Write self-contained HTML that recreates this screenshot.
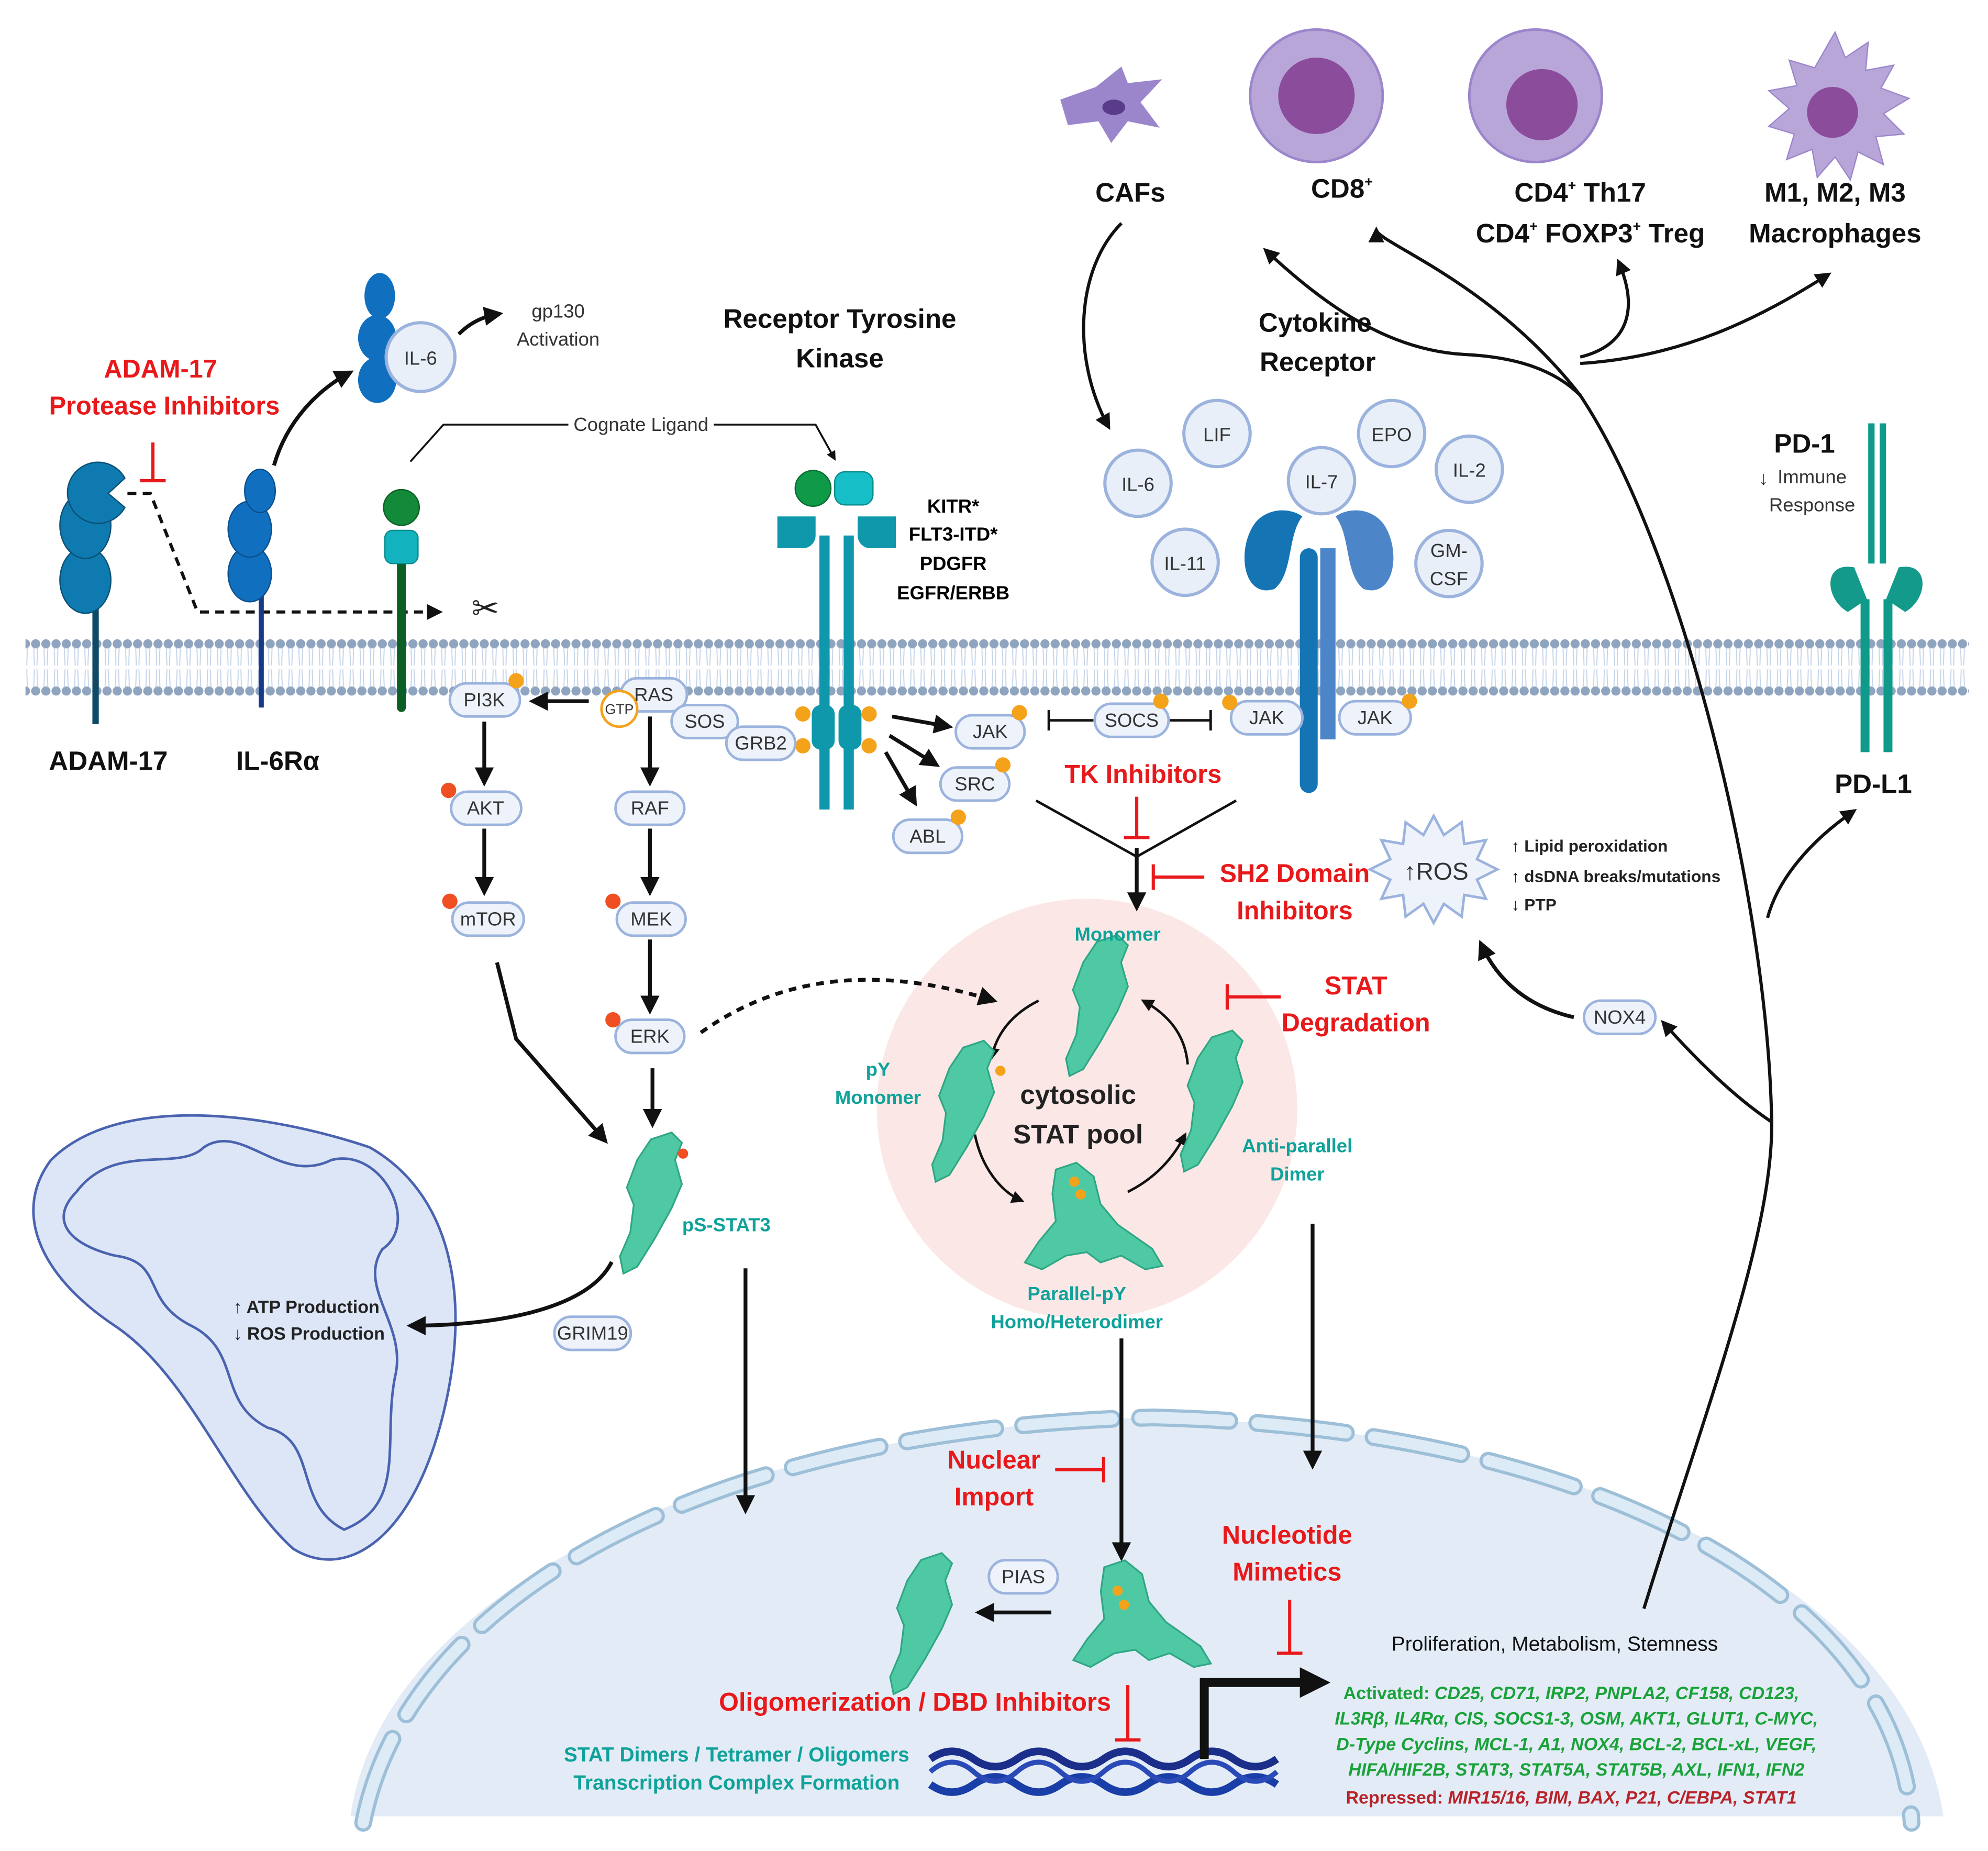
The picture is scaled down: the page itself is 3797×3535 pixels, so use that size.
<!DOCTYPE html>
<html><head><meta charset="utf-8"><style>
html,body{margin:0;padding:0;background:#fff;}
svg{display:block;}
text{font-family:"Liberation Sans",Arial,sans-serif;}
.n{fill:#333;font-size:15px;}
.b{font-weight:bold;}
.r{fill:#e8191b;font-weight:bold;font-size:20px;}
.t{fill:#0fa29a;font-weight:bold;font-size:15px;}
.k{fill:#111;font-weight:bold;font-size:21px;}
</style></head><body>
<svg width="3797" height="3535" viewBox="0 0 1560 1452" xmlns="http://www.w3.org/2000/svg">
<defs>
<marker id="a" viewBox="0 0 10 10" refX="8" refY="5" markerWidth="5" markerHeight="5" orient="auto"><path d="M0,0L10,5L0,10z" fill="#111"/></marker>
<pattern id="mem" x="0" y="0" width="8" height="50" patternUnits="userSpaceOnUse">
<circle cx="4" cy="5" r="3.6" fill="#8fa4bf"/><circle cx="4" cy="42" r="3.6" fill="#8fa4bf"/>
<path d="M2.5,8L3,22M5.5,8L5,22M2.5,39L3,25M5.5,39L5,25" stroke="#c4d4e8" stroke-width="0.8"/>
</pattern>
<g id="stat"><path d="M0,0 l8,-12 l12,-4 l6,6 l-4,10 l4,14 l-6,14 l-10,18 l-10,16 l-8,4 l-2,-10 l6,-14 l2,-16 l-4,-10z" fill="#4fc9a4" stroke="#2fa684" stroke-width="1" transform="scale(1.35)"/></g>
<g id="dimer"><path d="M-10,-30 l12,-4 l10,8 l4,16 l10,12 l20,14 l6,10 l-10,2 l-14,-8 l-12,4 l-8,-6 l-12,2 l-14,8 l-10,-4 l8,-12 l10,-12 l-2,-16z" fill="#4fc9a4" stroke="#2fa684" stroke-width="1" transform="scale(1.35)"/></g>
</defs>
<rect width="1560" height="1452" fill="#fff"/>

<!-- nucleus -->
<path d="M275,1425 C300,1250 560,1120 905,1112 C1250,1120 1500,1250 1525,1425 Z" fill="#e3ecf6"/>
<path d="M285,1430 C320,1250 560,1120 905,1112 C1250,1120 1490,1250 1500,1430" fill="none" stroke="#9dbfd8" stroke-width="14" stroke-dasharray="70,22" stroke-linecap="round"/>
<path d="M285,1430 C320,1250 560,1120 905,1112 C1250,1120 1490,1250 1500,1430" fill="none" stroke="#dcebf6" stroke-width="9" stroke-dasharray="70,22" stroke-linecap="round"/>

<!-- membrane -->
<rect x="20" y="497" width="1525" height="50" fill="url(#mem)"/>

<!-- pink pool -->
<circle cx="853" cy="870" r="165" fill="#fbe8e6"/>

<!-- mitochondrion -->
<path d="M40,910 C90,860 200,870 290,900 C360,940 370,1030 345,1120 C320,1210 270,1240 230,1215 C180,1170 150,1080 90,1040 C30,1000 10,950 40,910Z" fill="#dde6f6" stroke="#4a63b0" stroke-width="2"/>
<path d="M60,935 C90,895 140,920 160,900 C190,880 220,930 260,910 C300,900 330,960 300,980 C280,1010 320,1040 310,1080 C300,1130 320,1180 270,1200 C230,1180 250,1130 210,1120 C170,1100 190,1060 150,1040 C110,1020 130,990 90,985 C50,975 40,955 60,935Z" fill="none" stroke="#4a63b0" stroke-width="2"/>
<text x="183" y="1030" class="b" style="font-size:14px;fill:#222">↑ ATP Production</text>
<text x="183" y="1051" class="b" style="font-size:14px;fill:#222">↓ ROS Production</text>

<!-- top cells -->
<path d="M832,78 L860,68 L880,52 L885,65 L912,62 L895,80 L910,100 L885,95 L872,112 L862,95 L838,98 Z" fill="#9b86cc"/>
<ellipse cx="874" cy="84" rx="9" ry="6" fill="#5a3a8a"/>
<circle cx="1033" cy="75" r="52" fill="#b9a6d8" stroke="#9b86cc" stroke-width="2"/><circle cx="1033" cy="75" r="30" fill="#8b4c9c"/>
<circle cx="1205" cy="75" r="52" fill="#b9a6d8" stroke="#9b86cc" stroke-width="2"/><circle cx="1210" cy="82" r="28" fill="#8b4c9c"/>
<path d="M1440,25 l8,20 l18,-12 l-2,22 l22,-4 l-10,18 l22,8 l-20,12 l16,16 l-22,2 l6,22 l-20,-10 l-6,22 l-12,-18 l-14,16 l-4,-22 l-20,8 l6,-20 l-20,-6 l16,-14 l-16,-14 l22,-4 l-6,-20 l20,6 z" fill="#b9a6d8" stroke="#9b86cc"/>
<circle cx="1438" cy="88" r="20" fill="#8b4c9c"/>
<text x="887" y="158" class="k" text-anchor="middle">CAFs</text>
<text x="1053" y="155" class="k" text-anchor="middle">CD8<tspan dy="-9" style="font-size:11px">+</tspan></text>
<text x="1240" y="158" class="k" text-anchor="middle">CD4<tspan dy="-9" style="font-size:11px">+</tspan><tspan dy="9"> Th17</tspan></text>
<text x="1248" y="190" class="k" text-anchor="middle">CD4<tspan dy="-9" style="font-size:11px">+</tspan><tspan dy="9"> FOXP3</tspan><tspan dy="-9" style="font-size:11px">+</tspan><tspan dy="9"> Treg</tspan></text>
<text x="1440" y="158" class="k" text-anchor="middle">M1, M2, M3</text>
<text x="1440" y="190" class="k" text-anchor="middle">Macrophages</text>

<!-- ADAM17 -->
<line x1="75" y1="440" x2="75" y2="568" stroke="#0e4a66" stroke-width="5"/>
<ellipse cx="67" cy="455" rx="20" ry="26" fill="#0e7ab0" stroke="#0a4e74"/>
<ellipse cx="67" cy="412" rx="20" ry="26" fill="#0e7ab0" stroke="#0a4e74"/>
<path d="M98,375 A24,24 0 1 0 98,398 L85,387 Z" fill="#0e7ab0" stroke="#0a4e74"/>
<path d="M100,387 L118,387 L155,480 L345,480" fill="none" stroke="#111" stroke-width="2.5" stroke-dasharray="7,5" marker-end="url(#a)"/>
<text x="370" y="486" style="font-size:26px;fill:#222">✂</text>
<path d="M120,347 V377 M110,377 H130" stroke="#e8191b" stroke-width="2.5"/>
<text x="126" y="296" class="r" text-anchor="middle">ADAM-17</text>
<text x="129" y="325" class="r" text-anchor="middle">Protease Inhibitors</text>
<text x="85" y="604" class="k" text-anchor="middle">ADAM-17</text>

<!-- IL6Ra -->
<line x1="205" y1="440" x2="205" y2="555" stroke="#163a85" stroke-width="4"/>
<ellipse cx="196" cy="450" rx="17" ry="22" fill="#1070bf" stroke="#0a4e8c"/>
<ellipse cx="196" cy="415" rx="17" ry="22" fill="#1070bf" stroke="#0a4e8c"/>
<ellipse cx="204" cy="385" rx="12" ry="17" fill="#1070bf" stroke="#0a4e8c"/>
<text x="218" y="604" class="k" text-anchor="middle">IL-6Rα</text>
<path d="M215,365 C225,330 250,305 275,292" fill="none" stroke="#111" stroke-width="3" marker-end="url(#a)"/>
<ellipse cx="298" cy="232" rx="12" ry="18" fill="#1070bf"/>
<ellipse cx="296" cy="265" rx="15" ry="18" fill="#1070bf"/>
<ellipse cx="296" cy="298" rx="15" ry="18" fill="#1070bf"/>
<circle cx="330" cy="280" r="27" fill="#e9eff9" stroke="#9bb3dd" stroke-width="2.5"/>
<text x="330" y="286" class="n" text-anchor="middle">IL-6</text>
<path d="M360,262 C370,252 380,248 392,246" fill="none" stroke="#111" stroke-width="3" marker-end="url(#a)"/>
<text x="438" y="249" class="n" text-anchor="middle">gp130</text>
<text x="438" y="271" class="n" text-anchor="middle">Activation</text>

<!-- green receptor -->
<line x1="315" y1="430" x2="315" y2="555" stroke="#0d5e24" stroke-width="7" stroke-linecap="round"/>
<circle cx="315" cy="398" r="14" fill="#128a3a" stroke="#0d5e24"/>
<rect x="302" y="416" width="26" height="26" rx="6" fill="#12b3bf" stroke="#0a8a8a"/>
<path d="M322,362 L348,333 L640,333 L655,360" fill="none" stroke="#111" stroke-width="1.5" marker-end="url(#a)"/>
<rect x="446" y="323" width="114" height="20" fill="#fff"/>
<text x="503" y="338" class="n" text-anchor="middle">Cognate Ligand</text>

<!-- RTK -->
<text x="659" y="257" class="k" text-anchor="middle">Receptor Tyrosine</text>
<text x="659" y="288" class="k" text-anchor="middle">Kinase</text>
<circle cx="638" cy="383" r="14" fill="#0f9a48" stroke="#0a6a32"/>
<rect x="655" y="370" width="30" height="26" rx="8" fill="#16bfc8" stroke="#0a8a8a"/>
<path d="M610,405 H640 V420 A10,10 0 0 1 630,430 H610Z M703,405 H673 V420 A10,10 0 0 0 683,430 H703Z" fill="#0f98ac"/>
<rect x="643" y="420" width="8" height="215" fill="#0f98ac"/><rect x="662" y="420" width="8" height="215" fill="#0f98ac"/>
<rect x="637" y="553" width="18" height="35" rx="7" fill="#0f98ac"/><rect x="658" y="553" width="18" height="35" rx="7" fill="#0f98ac"/>
<g fill="#f5a21b"><circle cx="630" cy="560" r="6"/><circle cx="630" cy="585" r="6"/><circle cx="682" cy="560" r="6"/><circle cx="682" cy="585" r="6"/></g>
<text x="748" y="402" class="b" style="font-size:15px" text-anchor="middle">KITR*</text>
<text x="748" y="424" class="b" style="font-size:15px" text-anchor="middle">FLT3-ITD*</text>
<text x="748" y="447" class="b" style="font-size:15px" text-anchor="middle">PDGFR</text>
<text x="748" y="470" class="b" style="font-size:15px" text-anchor="middle">EGFR/ERBB</text>

<!-- cytokine receptor -->
<text x="1032" y="260" class="k" text-anchor="middle">Cytokine</text>
<text x="1034" y="291" class="k" text-anchor="middle">Receptor</text>
<path d="M1022,405 C1010,420 1015,450 1000,462 C975,470 970,430 985,410 C995,398 1012,398 1022,405Z" fill="#1474b4"/>
<path d="M1048,405 C1060,420 1055,450 1070,462 C1095,470 1100,430 1085,410 C1075,398 1058,398 1048,405Z" fill="#4d86c8"/>
<rect x="1020" y="430" width="14" height="192" rx="7" fill="#1474b4"/>
<rect x="1036" y="430" width="12" height="150" fill="#4d86c8"/>
<g fill="#e9eff9" stroke="#9bb3dd" stroke-width="2.5">
<circle cx="955" cy="340" r="26"/><circle cx="1092" cy="340" r="26"/><circle cx="893" cy="379" r="26"/>
<circle cx="1037" cy="377" r="26"/><circle cx="1153" cy="368" r="26"/><circle cx="930" cy="441" r="26"/><circle cx="1137" cy="442" r="26"/></g>
<g class="n" text-anchor="middle">
<text x="955" y="346">LIF</text><text x="1092" y="346">EPO</text><text x="893" y="385">IL-6</text><text x="1037" y="383">IL-7</text>
<text x="1153" y="374">IL-2</text><text x="930" y="447">IL-11</text><text x="1137" y="437">GM-</text><text x="1137" y="459">CSF</text></g>

<!-- PD-1 / PD-L1 -->
<rect x="1466" y="332" width="5" height="110" fill="#0f9a8a"/><rect x="1475" y="332" width="5" height="110" fill="#0f9a8a"/>
<path d="M1455,445 C1430,440 1432,470 1450,480 L1465,470Z M1490,445 C1515,440 1513,470 1495,480 L1480,470Z" fill="#139a8a"/>
<rect x="1460" y="470" width="7" height="120" fill="#0f9a8a"/><rect x="1478" y="470" width="7" height="120" fill="#0f9a8a"/>
<text x="1416" y="355" class="k" text-anchor="middle">PD-1</text>
<text x="1380" y="380" class="n">↓</text>
<text x="1422" y="379" class="n" text-anchor="middle">Immune</text>
<text x="1422" y="401" class="n" text-anchor="middle">Response</text>
<text x="1470" y="622" class="k" text-anchor="middle">PD-L1</text>

<!-- pill nodes -->
<g fill="#eef3fb" stroke="#9bb3dd" stroke-width="2">
<rect x="353" y="536" width="55" height="26" rx="13"/>
<rect x="487" y="532" width="52" height="26" rx="13"/>
<rect x="527" y="553" width="52" height="26" rx="13"/>
<rect x="570" y="570" width="54" height="26" rx="13"/>
<rect x="354" y="621" width="55" height="26" rx="13"/>
<rect x="483" y="621" width="54" height="26" rx="13"/>
<rect x="355" y="708" width="56" height="26" rx="13"/>
<rect x="484" y="708" width="54" height="26" rx="13"/>
<rect x="483" y="800" width="54" height="26" rx="13"/>
<rect x="750" y="561" width="54" height="26" rx="13"/>
<rect x="738" y="602" width="54" height="26" rx="13"/>
<rect x="701" y="643" width="54" height="26" rx="13"/>
<rect x="859" y="552" width="58" height="26" rx="13"/>
<rect x="966" y="550" width="56" height="26" rx="13"/>
<rect x="1051" y="550" width="56" height="26" rx="13"/>
<rect x="435" y="1033" width="60" height="26" rx="13"/>
<rect x="1243" y="785" width="56" height="26" rx="13"/>
<rect x="776" y="1224" width="54" height="26" rx="13"/>
</g>
<circle cx="486" cy="556" r="14" fill="#fff" stroke="#f5a21b" stroke-width="2"/>
<text x="486" y="560" style="font-size:11px;fill:#333" text-anchor="middle">GTP</text>
<g class="n" text-anchor="middle">
<text x="380" y="554">PI3K</text><text x="513" y="550">RAS</text><text x="553" y="571">SOS</text><text x="597" y="588">GRB2</text>
<text x="381" y="639">AKT</text><text x="510" y="639">RAF</text><text x="383" y="726">mTOR</text><text x="511" y="726">MEK</text><text x="510" y="818">ERK</text>
<text x="777" y="579">JAK</text><text x="765" y="620">SRC</text><text x="728" y="661">ABL</text><text x="888" y="570">SOCS</text>
<text x="994" y="568">JAK</text><text x="1079" y="568">JAK</text><text x="465" y="1051">GRIM19</text><text x="1271" y="803">NOX4</text><text x="803" y="1242">PIAS</text></g>
<g fill="#f5a21b"><circle cx="405" cy="534" r="6"/><circle cx="800" cy="559" r="6"/><circle cx="787" cy="600" r="6"/><circle cx="752" cy="641" r="6"/><circle cx="911" cy="550" r="6"/><circle cx="965" cy="551" r="6"/><circle cx="1106" cy="550" r="6"/></g>
<g fill="#f04e23"><circle cx="352" cy="620" r="6"/><circle cx="353" cy="707" r="6"/><circle cx="481" cy="707" r="6"/><circle cx="481" cy="800" r="6"/></g>

<!-- arrows in kinase pathways -->
<g stroke="#111" stroke-width="3" fill="none" marker-end="url(#a)">
<path d="M462,550 H418"/><path d="M380,566 V614"/><path d="M380,650 V700"/><path d="M510,562 V614"/><path d="M510,650 V700"/><path d="M510,737 V793"/><path d="M512,838 V882"/>
<path d="M390,755 L405,815 L475,895"/>
<path d="M700,562 L745,570"/><path d="M698,577 L735,600"/><path d="M695,590 L718,630"/>
<path d="M550,810 C620,760 700,760 780,785" stroke-dasharray="6,5"/>
<path d="M480,990 C460,1030 380,1040 322,1040"/>
<path d="M585,995 V1185"/><path d="M880,1050 V1222"/><path d="M1030,960 V1150"/>
<path d="M825,1265 H768"/>
<path d="M892,665 V712"/>
<path d="M1235,798 C1200,790 1175,770 1162,740"/>
</g>
<path d="M823,565 H858 M823,557 V573 M918,565 H950 M950,557 V573" stroke="#111" stroke-width="2"/>
<path d="M813,628 L892,672 L970,628" fill="none" stroke="#111" stroke-width="2"/>

<!-- inhibitors -->
<g stroke="#e8191b" stroke-width="2.5" fill="none">
<path d="M892,625 V657 M882,657 H902"/>
<path d="M945,688 H905 M905,678 V698"/>
<path d="M1005,782 H963 M963,772 V792"/>
<path d="M828,1153 H866 M866,1143 V1163"/>
<path d="M1012,1255 V1297 M1002,1297 H1022"/>
<path d="M885,1322 V1365 M875,1365 H895"/>
</g>
<text x="897" y="614" class="r" text-anchor="middle">TK Inhibitors</text>
<text x="1016" y="692" class="r" text-anchor="middle">SH2 Domain</text>
<text x="1016" y="721" class="r" text-anchor="middle">Inhibitors</text>
<text x="1064" y="780" class="r" text-anchor="middle">STAT</text>
<text x="1064" y="809" class="r" text-anchor="middle">Degradation</text>
<text x="780" y="1152" class="r" text-anchor="middle">Nuclear</text>
<text x="780" y="1181" class="r" text-anchor="middle">Import</text>
<text x="1010" y="1211" class="r" text-anchor="middle">Nucleotide</text>
<text x="1010" y="1240" class="r" text-anchor="middle">Mimetics</text>
<text x="718" y="1342" class="r" text-anchor="middle">Oligomerization / DBD Inhibitors</text>

<!-- STAT pool -->
<g stroke="#111" stroke-width="2" fill="none" marker-end="url(#a)">
<path d="M815,785 C795,795 782,810 778,830"/><path d="M765,890 C770,915 785,935 802,942"/>
<path d="M885,935 C905,925 920,910 930,890"/><path d="M932,835 C930,810 915,795 897,785"/>
</g>
<use href="#stat" x="850" y="755"/>
<use href="#stat" x="745" y="838"/>
<use href="#stat" x="940" y="830"/>
<use href="#dimer" x="842" y="958"/>
<use href="#stat" x="500" y="910"/>
<use href="#stat" x="712" y="1240"/>
<use href="#dimer" x="880" y="1270"/>
<g fill="#f5a21b"><circle cx="785" cy="840" r="4"/><circle cx="843" cy="927" r="4"/><circle cx="848" cy="937" r="4"/><circle cx="877" cy="1248" r="4"/><circle cx="882" cy="1259" r="4"/></g>
<circle cx="536" cy="905" r="4" fill="#f04e23"/>
<text x="877" y="738" class="t" text-anchor="middle">Monomer</text>
<text x="689" y="844" class="t" text-anchor="middle">pY</text>
<text x="689" y="866" class="t" text-anchor="middle">Monomer</text>
<text x="846" y="866" class="b" style="font-size:21px;fill:#222" text-anchor="middle">cytosolic</text>
<text x="846" y="897" class="b" style="font-size:21px;fill:#222" text-anchor="middle">STAT pool</text>
<text x="1018" y="904" class="t" text-anchor="middle">Anti-parallel</text>
<text x="1018" y="926" class="t" text-anchor="middle">Dimer</text>
<text x="845" y="1020" class="t" text-anchor="middle">Parallel-pY</text>
<text x="845" y="1042" class="t" text-anchor="middle">Homo/Heterodimer</text>
<text x="570" y="966" class="t" text-anchor="middle">pS-STAT3</text>
<text x="578" y="1382" class="t" style="font-size:16px" text-anchor="middle">STAT Dimers / Tetramer / Oligomers</text>
<text x="578" y="1404" class="t" style="font-size:16px" text-anchor="middle">Transcription Complex Formation</text>

<!-- DNA -->
<path d="M730,1380 q17,-12 34,0 t34,0 t34,0 t34,0 t34,0 t34,0 t34,0 t34,0" fill="none" stroke="#1a2e8a" stroke-width="6"/>
<path d="M730,1400 q17,12 34,0 t34,0 t34,0 t34,0 t34,0 t34,0 t34,0 t34,0" fill="none" stroke="#1a3ea8" stroke-width="6"/>
<path d="M730,1390 q17,-15 34,0 t34,0 t34,0 t34,0 t34,0 t34,0 t34,0 t34,0" fill="none" stroke="#2a4ab8" stroke-width="4"/>
<path d="M945,1380 V1320 H1025" fill="none" stroke="#111" stroke-width="7"/>
<path d="M1020,1308 L1044,1320 L1020,1332Z" fill="#111"/>
<text x="1220" y="1295" style="font-size:16px;fill:#111" text-anchor="middle">Proliferation, Metabolism, Stemness</text>
<g style="font-size:14px;font-weight:bold" text-anchor="middle">
<text x="1233" y="1333" fill="#1aa23a">Activated: <tspan font-style="italic">CD25, CD71, IRP2, PNPLA2, CF158, CD123,</tspan></text>
<text x="1237" y="1353" fill="#1aa23a" font-style="italic">IL3Rβ, IL4Rα, CIS, SOCS1-3, OSM, AKT1, GLUT1, C-MYC,</text>
<text x="1237" y="1373" fill="#1aa23a" font-style="italic">D-Type Cyclins, MCL-1, A1, NOX4, BCL-2, BCL-xL, VEGF,</text>
<text x="1237" y="1393" fill="#1aa23a" font-style="italic">HIFA/HIF2B, STAT3, STAT5A, STAT5B, AXL, IFN1, IFN2</text>
<text x="1233" y="1415" fill="#b8232a">Repressed: <tspan font-style="italic">MIR15/16, BIM, BAX, P21, C/EBPA, STAT1</tspan></text>
</g>

<!-- ROS -->
<path d="M1125,640 l8,15 l14,-10 l2,17 l17,-3 l-7,15 l16,8 l-16,8 l7,15 l-17,-3 l-2,17 l-14,-10 l-8,15 l-8,-15 l-14,10 l-2,-17 l-17,3 l7,-15 l-16,-8 l16,-8 l-7,-15 l17,3 l2,-17 l14,10z" fill="#eef3fb" stroke="#9bb3dd" stroke-width="2"/>
<text x="1127" y="690" style="font-size:19px;fill:#333" text-anchor="middle">↑ROS</text>
<g style="font-size:13px;font-weight:bold;fill:#222">
<text x="1186" y="668">↑ Lipid peroxidation</text><text x="1186" y="692">↑ dsDNA breaks/mutations</text><text x="1186" y="714">↓ PTP</text></g>

<!-- big curves -->
<g stroke="#111" stroke-width="2.5" fill="none">
<path d="M1290,1262 C1340,1100 1395,960 1390,870 C1385,700 1320,430 1240,310 C1170,220 1080,190 1080,180" marker-end="url(#a)"/>
<path d="M1240,310 C1220,290 1190,280 1150,278 C1090,275 1040,240 993,196" marker-end="url(#a)"/>
<path d="M1240,280 C1280,270 1285,240 1270,205" marker-end="url(#a)"/>
<path d="M1240,285 C1320,280 1380,250 1435,215" marker-end="url(#a)"/>
<path d="M1387,720 C1395,690 1420,660 1455,636" marker-end="url(#a)"/>
<path d="M1390,880 C1360,860 1330,830 1305,802" marker-end="url(#a)"/>
<path d="M880,175 C845,210 840,280 870,335" marker-end="url(#a)"/>
</g>
</svg>
</body></html>
